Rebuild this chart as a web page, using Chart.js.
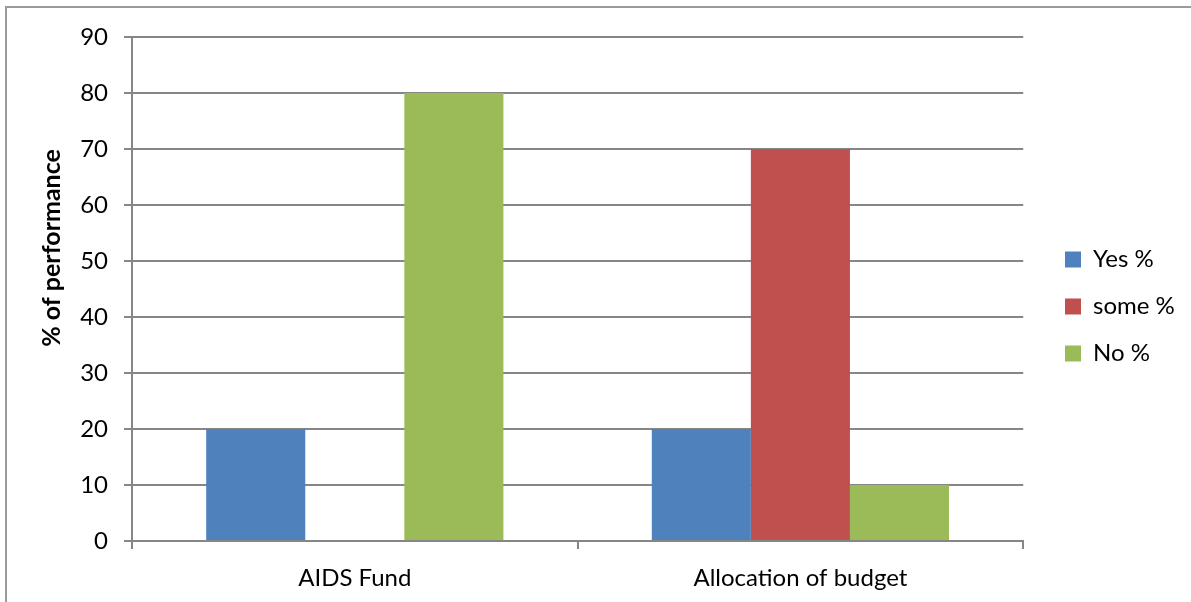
<!DOCTYPE html>
<html>
<head>
<meta charset="utf-8">
<script src="https://cdn.jsdelivr.net/npm/chart.js@4/dist/chart.umd.min.js"></script>
<style>
  html, body { margin: 0; padding: 0; background: #fff; overflow: hidden; }
  #wrap { position: relative; width: 1191px; height: 602px; }
  #frame { position: absolute; left: 5px; top: 6px; width: 1300px; height: 700px;
           border-left: 2px solid #9a9a9a; border-top: 2px solid #9a9a9a; pointer-events: none; }
</style>
</head>
<body>
<div id="wrap">
  <canvas id="chart" width="1191" height="602"></canvas>
  <div id="frame"></div>
</div>
<script>
// chart values
var categories = ['AIDS Fund', 'Allocation of budget'];
var yesPct = [20, 20];
var somePct = [0, 70];
var noPct = [80, 10];
var yTitle = '% of performance';

var gridColor = '#868686';
var fontName = 'Lato, "Open Sans", sans-serif';

// y axis title, placed a bit above centre like the original
var axisTitle = {
    id: 'axisTitle',
    afterDraw: function(chart) {
        var ctx = chart.ctx;
        ctx.save();
        ctx.translate(52, 248);
        ctx.rotate(-Math.PI / 2);
        ctx.font = 'bold 25px ' + fontName;
        ctx.fillStyle = '#000';
        ctx.textAlign = 'center';
        ctx.textBaseline = 'middle';
        ctx.fillText(yTitle, 0, 0);
        ctx.restore();
    }
};

// nudge the legend into place
var legendShift = {
    id: 'legendShift',
    afterLayout: function(chart) {
        var lg = chart.legend;
        var dx = 1065 - 23 - lg.left;
        lg.left += dx; lg.right += dx;
        lg.top -= 13; lg.bottom -= 13;
    }
};

var chart = new Chart(document.getElementById('chart'), {
    type: 'bar',
    data: {
        labels: categories,
        datasets: [
            { label: 'Yes %', data: yesPct, backgroundColor: '#4F81BD' },
            { label: 'some %', data: somePct, backgroundColor: '#C0504D' },
            { label: 'No %', data: noPct, backgroundColor: '#9BBB59' }
        ]
    },
    options: {
        responsive: false,
        animation: false,
        layout: { padding: { left: 0, top: 37, right: 25, bottom: 0 } },
        datasets: { bar: { categoryPercentage: 0.667, barPercentage: 1.0 } },
        plugins: {
            tooltip: { enabled: false },
            legend: {
                position: 'right',
                labels: {
                    boxWidth: 16, boxHeight: 16, padding: 23,
                    color: '#000',
                    font: { family: fontName, size: 24 }
                }
            }
        },
        scales: {
            x: {
                grid: { drawOnChartArea: false, drawTicks: true, tickLength: 8, color: gridColor, lineWidth: 2 },
                border: { display: true, color: gridColor, width: 2 },
                ticks: { color: '#000', padding: 15, font: { family: fontName, size: 24 } },
                afterFit: function(s) { s.height = 61; }
            },
            y: {
                min: 0, max: 90,
                grid: { color: gridColor, lineWidth: 2, tickLength: 8 },
                border: { display: true, color: gridColor, width: 2 },
                ticks: { stepSize: 10, color: '#000', padding: 16, font: { family: fontName, size: 24 } },
                afterFit: function(s) { s.width = 132; }
            }
        }
    },
    plugins: [axisTitle, legendShift]
});
</script>
</body>
</html>
